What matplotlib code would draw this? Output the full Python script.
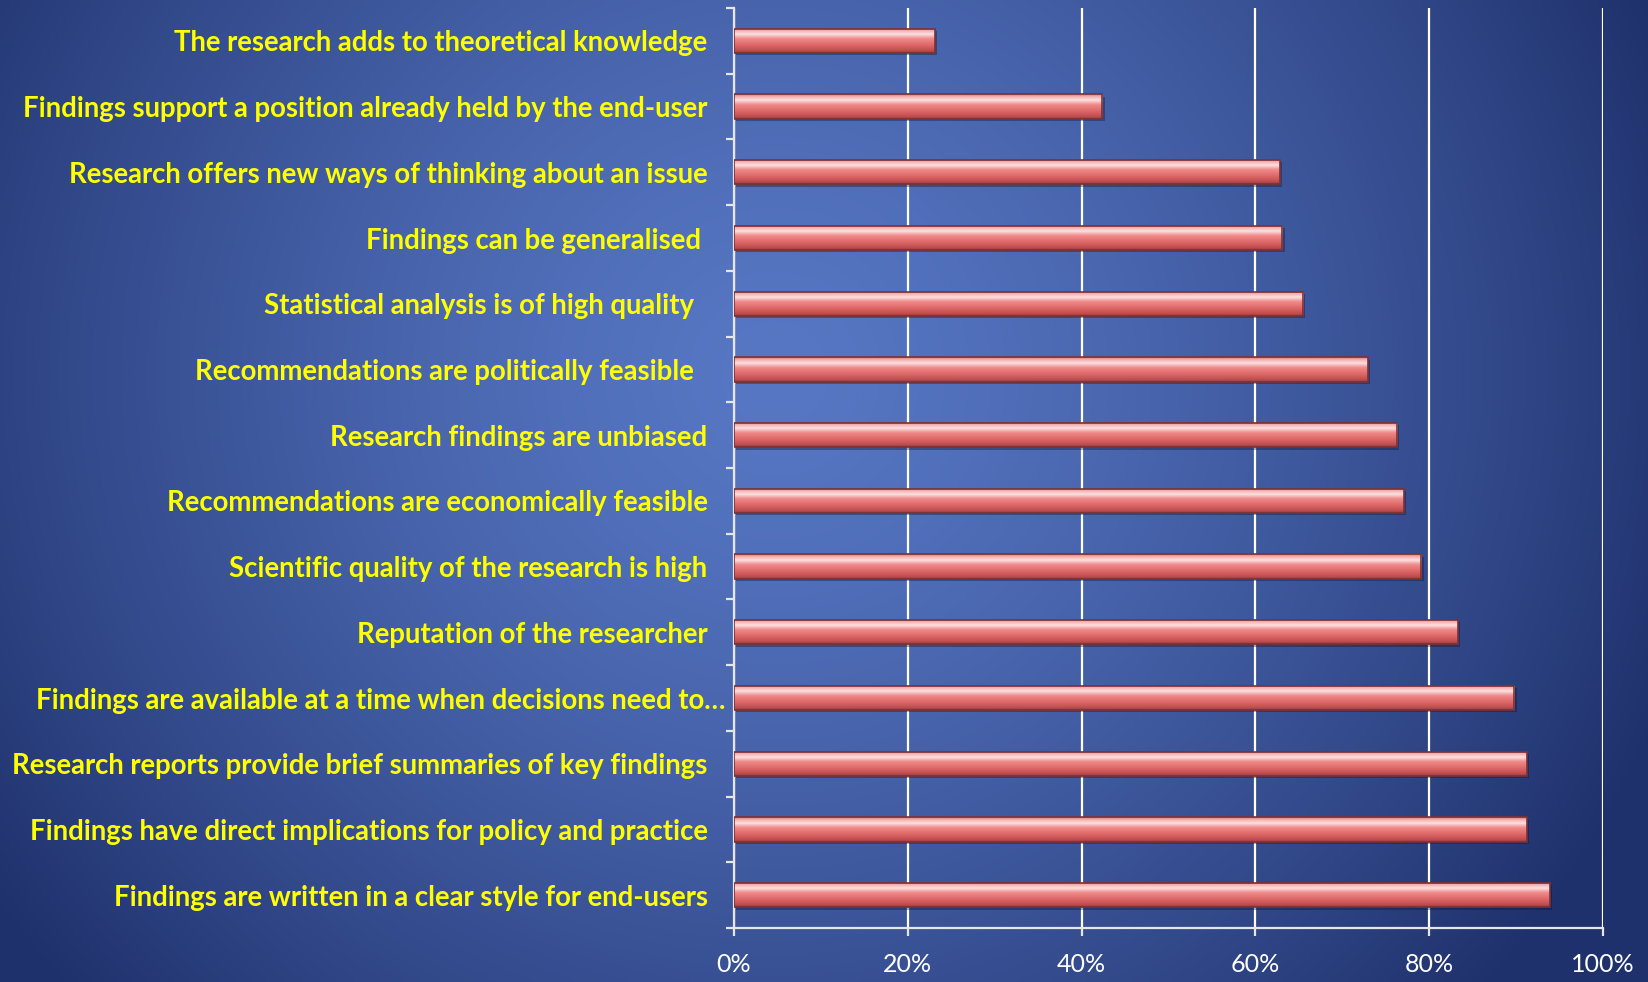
import numpy as np
import matplotlib
matplotlib.use("Agg")
import matplotlib.pyplot as plt
import matplotlib.ticker as mticker
from matplotlib.colors import LinearSegmentedColormap, to_rgb
from matplotlib.transforms import ScaledTranslation

# survey factors, top to bottom, with the share of respondents (%)
factors = [
    "The research adds to theoretical knowledge",
    "Findings support a position already held by the end-user",
    "Research offers new ways of thinking about an issue",
    "Findings can be generalised ",
    "Statistical analysis is of high quality  ",
    "Recommendations are politically feasible  ",
    "Research findings are unbiased",
    "Recommendations are economically feasible",
    "Scientific quality of the research is high",
    "Reputation of the researcher",
    "Findings are available at a time when decisions need to\u2026",
    "Research reports provide brief summaries of key findings",
    "Findings have direct implications for policy and practice",
    "Findings are written in a clear style for end-users",
]
shares = [23.1, 42.4, 62.8, 63.1, 65.5, 72.9, 76.3, 77.1, 79.1, 83.3, 89.8, 91.2, 91.2, 93.9]
xticks = [0, 20, 40, 60, 80, 100]

W, H, DPI = 1649, 982, 100
fig = plt.figure(figsize=(W / DPI, H / DPI), dpi=DPI)

# blue slide background, lighter towards the middle
bg = fig.add_axes([0, 0, 1, 1], zorder=-1)
bg.set_axis_off()
gx, gy = np.meshgrid(np.linspace(0, 1, 400), np.linspace(0, 1, 240))
d = np.sqrt(((gx - 0.47) / 0.58) ** 2 + ((gy - 0.38) / 0.95) ** 2)
t = np.clip(d, 0, 1) ** 1.4
inner = np.array(to_rgb("#5777c4"))
outer = np.array(to_rgb("#1f316c"))
img = inner[None, None, :] * (1 - t[..., None]) + outer[None, None, :] * t[..., None]
bg.imshow(img, aspect="auto", extent=(0, 1, 1, 0), interpolation="bilinear")
bg.set_xlim(0, 1)
bg.set_ylim(1, 0)

ax = fig.add_axes([734 / W, 1 - 928 / H, (1603 - 734) / W, (928 - 8) / H])
ax.set_facecolor("none")

ypos = np.arange(len(factors))
bar_h = 0.37

# soft shadow under each bar
ax.barh(ypos + 0.035, shares, height=bar_h, left=0.25, color="#0a1230", alpha=0.35,
        linewidth=0, zorder=2)
bars = ax.barh(ypos, shares, height=bar_h, color="none", edgecolor="#7a3236",
               linewidth=1.2, zorder=4)

# glossy red fill, clipped to each bar
gloss = LinearSegmentedColormap.from_list("gloss", [
    (0.00, "#d07676"),
    (0.08, "#f4a8a8"),
    (0.24, "#fde2e2"),
    (0.42, "#f08a8a"),
    (0.70, "#dc6666"),
    (0.90, "#c24e50"),
    (1.00, "#963c40"),
])
grad = np.linspace(0, 1, 64)[:, None]
for p in bars:
    x0, yc0 = p.get_x(), p.get_y()
    w, h = p.get_width(), p.get_height()
    im = ax.imshow(grad, cmap=gloss, aspect="auto", interpolation="bilinear",
                   extent=(x0, x0 + w, yc0 + h, yc0), zorder=3)
    im.set_clip_path(p)

ax.set_xlim(0, 100)
ax.set_ylim(len(factors) - 0.5, -0.5)

ax.set_xticks(xticks)
ax.xaxis.set_major_formatter(mticker.PercentFormatter(decimals=0))
ax.set_yticks(ypos)
ax.set_yticks(np.arange(-0.5, len(factors), 1.0), minor=True)
ax.set_yticklabels(factors)

ax.grid(axis="x", color="white", linewidth=1.6, zorder=1)
ax.set_axisbelow(True)
for s in ["top", "right"]:
    ax.spines[s].set_visible(False)
for s in ["left", "bottom"]:
    ax.spines[s].set_color("#e6e6e6")
    ax.spines[s].set_linewidth(1.6)

ax.tick_params(axis="y", which="major", length=0, pad=19)
ax.tick_params(axis="y", which="minor", length=6, width=1.6, color="#e6e6e6")
ax.tick_params(axis="x", length=6, width=1.6, color="#e6e6e6", pad=12)

for lab in ax.get_yticklabels():
    lab.set_fontfamily("Lato")
    lab.set_fontweight("bold")
    lab.set_fontsize(19.8)
    lab.set_color("#ffff00")
for lab in ax.get_xticklabels():
    lab.set_fontfamily("Lato")
    lab.set_fontsize(18)
    lab.set_color("white")

# the truncated label sits closer to the axis
long_lab = ax.get_yticklabels()[10]
long_lab.set_transform(long_lab.get_transform() + ScaledTranslation(0.18, 0, fig.dpi_scale_trans))

fig.savefig("out.png", dpi=DPI)
